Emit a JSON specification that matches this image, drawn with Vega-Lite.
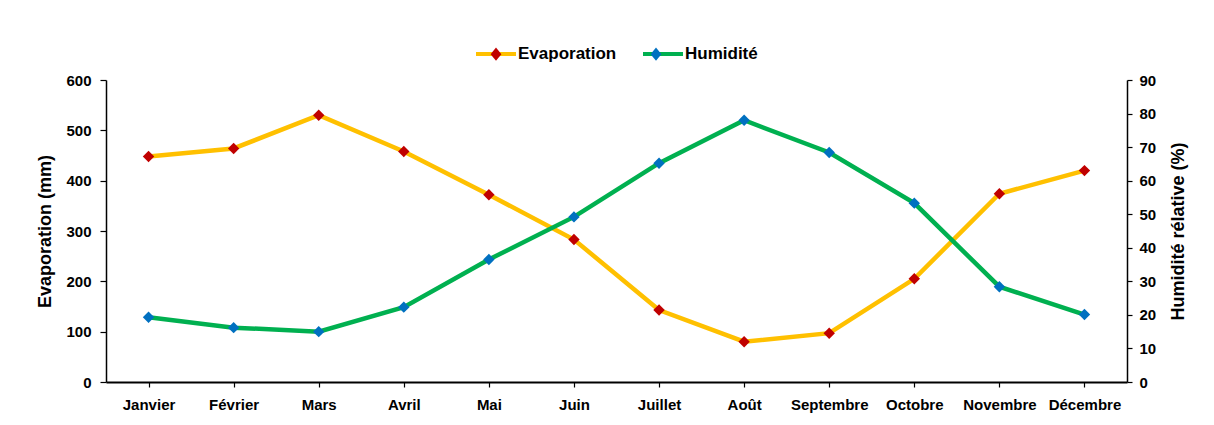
{
  "$schema": "https://vega.github.io/schema/vega-lite/v6.json",
  "autosize": "none",
  "width": 1021,
  "height": 302,
  "padding": {"left": 106, "top": 80, "right": 87, "bottom": 43},
  "background": "white",
  "config": {
    "font": "Liberation Sans",
    "view": {"stroke": null},
    "axis": {
      "labelFont": "Liberation Sans",
      "labelFontWeight": "bold",
      "labelFontSize": 15,
      "labelColor": "#000000",
      "titleFont": "Liberation Sans",
      "titleFontWeight": "bold",
      "titleFontSize": 18,
      "titleColor": "#000000",
      "domainColor": "#000000",
      "domainWidth": 1.5,
      "tickColor": "#000000",
      "tickWidth": 1.2,
      "grid": false
    },
    "legend": {
      "title": null,
      "orient": "none",
      "direction": "horizontal",
      "legendX": 368,
      "legendY": -48,
      "symbolSize": 1600,
      "symbolStrokeWidth": 4,
      "labelFont": "Liberation Sans",
      "labelFontWeight": "bold",
      "labelFontSize": 17,
      "labelColor": "#000000",
      "labelOffset": 0,
      "columnPadding": 18
    }
  },
  "data": {
    "values": [
      {"mois": "Janvier", "Evaporation": 448, "Humidite": 19.3},
      {"mois": "Février", "Evaporation": 464, "Humidite": 16.2},
      {"mois": "Mars", "Evaporation": 530, "Humidite": 15.0},
      {"mois": "Avril", "Evaporation": 458, "Humidite": 22.3},
      {"mois": "Mai", "Evaporation": 372, "Humidite": 36.5},
      {"mois": "Juin", "Evaporation": 283, "Humidite": 49.2},
      {"mois": "Juillet", "Evaporation": 143, "Humidite": 65.2},
      {"mois": "Août", "Evaporation": 80, "Humidite": 78.0},
      {"mois": "Septembre", "Evaporation": 97, "Humidite": 68.4},
      {"mois": "Octobre", "Evaporation": 205, "Humidite": 53.3},
      {"mois": "Novembre", "Evaporation": 374, "Humidite": 28.4},
      {"mois": "Décembre", "Evaporation": 420, "Humidite": 20.1}
    ]
  },
  "encoding": {
    "x": {
      "field": "mois",
      "type": "nominal",
      "sort": null,
      "scale": {"paddingInner": 0, "paddingOuter": 0},
      "axis": {
        "title": null,
        "labelAngle": 0,
        "bandPosition": 0,
        "tickSize": 5,
        "labelPadding": 10,
        "domainWidth": 2
      }
    }
  },
  "layer": [
    {
      "encoding": {
        "y": {
          "field": "Evaporation",
          "type": "quantitative",
          "scale": {"domain": [0, 600], "nice": false},
          "axis": {
            "title": "Evaporation (mm)",
            "values": [0, 100, 200, 300, 400, 500, 600],
            "tickSize": 6,
            "labelPadding": 9,
            "titlePadding": 11
          }
        }
      },
      "layer": [
        {
          "mark": {"type": "line", "strokeWidth": 4.5},
          "encoding": {
            "stroke": {
              "datum": "Evaporation",
              "type": "nominal",
              "scale": {"domain": ["Humidité", "Evaporation"], "range": ["#00B050", "#FFC000"]},
              "legend": {
                "values": ["Evaporation", "Humidité"],
                "symbolType": "M-1,0H1"
              }
            }
          }
        },
        {
          "mark": {"type": "point", "shape": "diamond", "filled": true, "size": 130, "opacity": 1},
          "encoding": {
            "fill": {
              "datum": "Evaporation",
              "type": "nominal",
              "scale": {"domain": ["Evaporation", "Humidité"], "range": ["#C00000", "#0070C0"]},
              "legend": {
                "symbolType": "M-0.27,0L0,-0.33L0.27,0L0,0.33Z",
                "symbolStrokeColor": "transparent",
                "symbolOpacity": 1,
                "labelExpr": "''",
                "columnPadding": 116
              }
            }
          }
        }
      ]
    },
    {
      "encoding": {
        "y": {
          "field": "Humidite",
          "type": "quantitative",
          "scale": {"domain": [0, 90], "nice": false},
          "axis": {
            "orient": "right",
            "title": "Humidité rélative (%)",
            "titleAngle": 270,
            "titleBaseline": "top",
            "values": [0, 10, 20, 30, 40, 50, 60, 70, 80, 90],
            "tickSize": 5,
            "labelPadding": 7,
            "titlePadding": 14
          }
        }
      },
      "layer": [
        {
          "mark": {"type": "line", "strokeWidth": 4.5},
          "encoding": {
            "stroke": {"datum": "Humidité", "type": "nominal"}
          }
        },
        {
          "mark": {"type": "point", "shape": "diamond", "filled": true, "size": 130, "opacity": 1},
          "encoding": {
            "fill": {"datum": "Humidité", "type": "nominal"}
          }
        }
      ]
    }
  ],
  "resolve": {"scale": {"y": "independent"}}
}
